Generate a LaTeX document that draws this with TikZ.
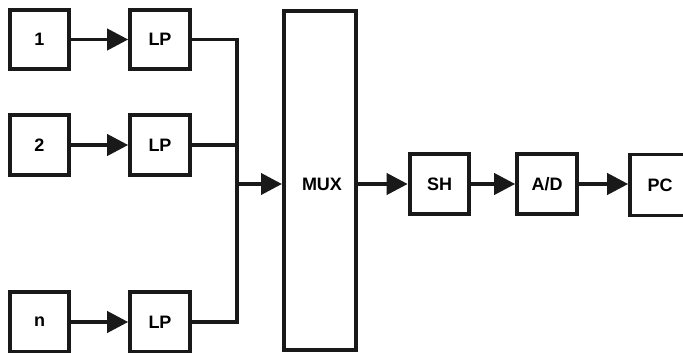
\documentclass[tikz,border=0pt]{standalone}
\usepackage{fontspec}
\setmainfont{Liberation Sans}
\usetikzlibrary{arrows.meta}
\begin{document}
\begin{tikzpicture}[x=1pt,y=-1pt,
  blk/.style={draw=black!90, line width=3.9pt, minimum width=59.7pt, minimum height=59.7pt, inner sep=0pt,
    font=\fontsize{18}{20}\bfseries\selectfont},
  wire/.style={draw=black!90, line width=3.9pt},
  arr/.style={wire, -{Triangle[length=21pt,width=21pt]}},
  lbl/.style={inner sep=0pt, font=\fontsize{18}{20}\bfseries\selectfont}]
\useasboundingbox (0,0) rectangle (683,353);
\clip (0,0) rectangle (683,353);
\node[blk] (s1) at (39.5,39.5) {1};
\node[blk] (lp1) at (160,39.5) {LP};
\node[blk] (s2) at (39.5,145) {2};
\node[blk] (lp2) at (160,145) {LP};
\node[blk] (sn) at (39.5,322) {n};
\node[blk] (lpn) at (160,322) {LP};
\node[blk, minimum width=72.1pt, minimum height=339.1pt] (mux) at (320,180.5) {};
\node[lbl] (muxl) at (322,184) {MUX};
\node[blk] (sh) at (439.5,184) {SH};
\node[blk] (ad) at (547,184) {A/D};
\node[blk, minimum height=61pt] (pc) at (660,185) {PC};
\coordinate (b) at (237,184);
\draw[arr] (s1) -- (lp1);
\draw[arr] (s2) -- (lp2);
\draw[arr] (sn) -- (lpn);
\draw[wire, line join=miter] (lp1.east) -| (b);
\draw[wire, line join=miter] (lpn.east) -| (b);
\draw[wire] (lp2.east) -- (lp2.east -| b);
\draw[arr] (b) -- (b -| mux.west);
\draw[arr] (mux.east |- sh.west) -- (sh.west);
\draw[arr] (sh) -- (ad);
\draw[arr] (ad.east) -- (ad.east -| pc.west);
\end{tikzpicture}
\end{document}
